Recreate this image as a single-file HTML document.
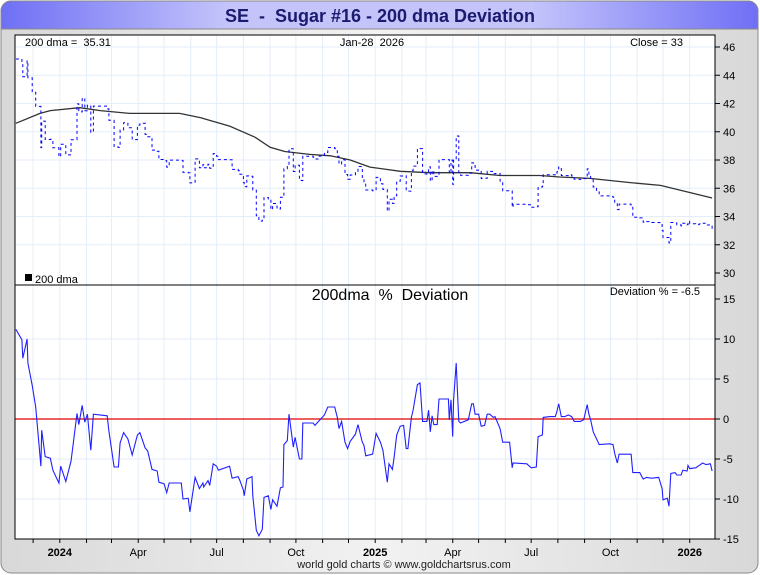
<!DOCTYPE html>
<html><head><meta charset="utf-8"><style>
body{margin:0;background:#fff;font-family:"Liberation Sans",sans-serif}
svg{display:block}
svg text{white-space:pre}
</style></head><body>
<svg id="chart" width="760" height="575" xmlns="http://www.w3.org/2000/svg" font-family="Liberation Sans, sans-serif">
<defs>
<linearGradient id="hdr" x1="0" x2="1" y1="0" y2="0">
<stop offset="0" stop-color="#6f6ff5"/><stop offset="0.3" stop-color="#c4c4fb"/><stop offset="0.7" stop-color="#c4c4fb"/><stop offset="1" stop-color="#6f6ff5"/>
</linearGradient>
<linearGradient id="bg" x1="0" x2="1" y1="0" y2="0">
<stop offset="0" stop-color="#d8d8d8"/><stop offset="0.5" stop-color="#f2f2f2"/><stop offset="1" stop-color="#d8d8d8"/>
</linearGradient>
</defs>
<rect x="1" y="1" width="757" height="572" rx="10" fill="url(#bg)" stroke="#888"/>
<path d="M1,29 V11 A10,10 0 0 1 11,1 H748 A10,10 0 0 1 758,11 V29 Z" fill="url(#hdr)" stroke="#888"/>
<text x="380" y="22" text-anchor="middle" font-size="18" font-weight="bold" fill="#1a1a6e">SE  -  Sugar #16 - 200 dma Deviation</text>
<rect x="15" y="35" width="700" height="504" fill="#fff"/>
<g id="grid"></g>
<g id="marks"></g>
<rect x="15" y="35" width="700" height="504" fill="none" stroke="#000"/>
<line x1="15" y1="285" x2="715" y2="285" stroke="#000"/>
<g id="axes" font-size="11"></g>
<text x="25" y="46" font-size="11">200 dma =  35.31</text>
<text x="372" y="46" font-size="11" text-anchor="middle">Jan-28  2026</text>
<text x="683" y="46" font-size="11" text-anchor="end">Close = 33</text>
<rect x="25" y="274" width="7" height="7" fill="#000"/>
<text x="35" y="283" font-size="11">200 dma</text>
<text x="390" y="300" font-size="16" text-anchor="middle">200dma  %  Deviation</text>
<text x="700" y="295" font-size="11" text-anchor="end">Deviation % = -6.5</text>
<text x="404" y="568" font-size="11" text-anchor="middle" fill="#222">world gold charts © www.goldchartsrus.com</text>
</svg>
<script>
// Days since 2023-11-10
const devDays=[1,8,9,14,15,20,24,30,31,35,41,44,51,53,59,65,72,74,78,81,84,88,91,107,109,115,120,122,126,131,136,142,145,151,154,159,165,167,173,176,179,193,195,201,203,209,214,218,219,224,226,230,234,236,249,252,259,261,265,266,269,275,276,280,283,287,289,294,297,299,304,308,311,312,316,318,323,325,330,333,334,346,348,353,359,363,371,374,376,379,383,386,389,395,398,403,405,407,415,419,424,427,432,434,438,440,443,447,451,454,456,460,462,467,470,473,478,480,482,484,486,490,492,503,504,506,508,509,512,515,517,526,530,532,534,538,541,545,548,551,555,557,563,566,574,577,578,594,599,605,607,612,613,621,627,629,631,634,638,642,646,649,656,660,664,666,668,671,675,678,690,694,696,699,701,715,717,725,729,733,739,747,751,752,757,759,761,766,768,773,775,780,781,783,790,794,798,802,807,809];
const devValues=[11.2,9.9,7.6,10,7,4.2,1.5,-5.9,-1.4,-4.7,-4.9,-6.4,-8,-5.9,-7.8,-5.3,0.7,-0.7,1.7,-0.4,0.6,-3.9,0.6,0.4,-1.5,-6,-6,-3,-1.7,-2.5,-4.5,-2,-1.7,-3.6,-4,-6.3,-6.5,-7.9,-8.1,-9.2,-8,-8,-10,-9.9,-11.6,-7.3,-8.7,-8,-8.5,-7.7,-8.3,-5.6,-5.9,-6.4,-5.9,-7.4,-7.2,-7.7,-8.9,-9.6,-7.5,-7.2,-9.6,-13.9,-14.6,-13.8,-9.8,-9.6,-11.3,-10.1,-10.9,-8.6,-8.5,-3.2,-2.7,0.6,-3.5,-2.3,-5,-5,-0.5,-0.5,-0.8,-0.2,0.5,1.5,1.5,0.2,-1.2,-0.3,-2.9,-3.7,-2.8,-1.9,-0.7,-2.9,-3.3,-4.6,-4.4,-1.8,-2.9,-3.9,-7.9,-5.6,-6.3,-4.8,-2,-0.9,-0.8,-3.7,-3.7,0.2,1.1,4.3,4.5,-0.3,-0.3,1.1,-1.6,0.4,-0.7,-0.7,2.5,2.5,-0.1,2.4,-2.2,2.4,7,-0.3,-0.5,-0.1,1.9,1.9,0.6,0.6,-0.9,-0.8,0.6,0.6,0.2,0.3,-1.2,-2.9,-2.9,-6.1,-5.5,-5.6,-6.1,-6,-2.2,-2,0.2,0.3,0.3,1,1.9,0.3,0.3,0.5,0.3,-0.3,-0.3,-0.1,1.8,0.6,-0.1,-1.6,-2.5,-3.2,-3.1,-3.2,-4.3,-5.5,-4.4,-4.4,-6.7,-6.7,-7.5,-7.3,-7.4,-7.3,-8.7,-10.1,-9.9,-10.9,-6.8,-6.7,-7,-7,-6.4,-6.5,-5.8,-6.2,-6.1,-5.8,-5.5,-5.7,-5.6,-6.5];
const dmaDays=[1,29,41,75,99,133,191,215,249,279,296,313,342,366,389,412,447,482,528,563,609,632,667,714,749,783,809];
const dmaValues=[40.6,41.3,41.5,41.7,41.5,41.3,41.3,41.0,40.4,39.6,38.9,38.6,38.4,38.3,38.0,37.5,37.2,37.1,37.1,36.9,36.9,36.8,36.7,36.4,36.2,35.7,35.31];
const priceTicks=[30,32,34,36,38,40,42,44,46];
const devTicks=[-15,-10,-5,0,5,10,15];
const monthDays=[21,52,83,112,143,173,204,234,265,296,326,357,387,418,449,477,508,538,569,599,630,661,691,722,752,783];
const monthLabels=["","2024","","","Apr","","","Jul","","","Oct","","","2025","","","Apr","","","Jul","","","Oct","","","2026"];

const NS="http://www.w3.org/2000/svg";
const xS=d=>15+d*0.8617;
const yP=v=>47+(46-v)*14.125;
const yD=v=>419-v*8;
function mk(tag,attrs,parent){const e=document.createElementNS(NS,tag);for(const k in attrs)e.setAttribute(k,attrs[k]);parent.appendChild(e);return e;}
const grid=document.getElementById('grid'),marks=document.getElementById('marks'),axes=document.getElementById('axes');

monthDays.forEach((d,i)=>{
  const x=xS(d);
  const g=mk('line',{x1:x,x2:x,y1:35,y2:539,stroke:'#e3eef8'},grid);
  
  
  const t=mk('line',{x1:x,x2:x,y1:539,y2:543,stroke:'#000'},axes);
  
  
  if(monthLabels[i]){
    const isYear=/^\d+$/.test(monthLabels[i]);
    const l=mk('text',{x:x,y:556,'text-anchor':'middle','font-weight':isYear?'bold':'normal'},axes);
    l.textContent=monthLabels[i];
    
    
  }
});
priceTicks.forEach(v=>{
  const y=yP(v);
  if(v>30){const g=mk('line',{x1:15,x2:715,y1:y,y2:y,stroke:'#e3eef8'},grid);
  
  }
  const t=mk('line',{x1:715,x2:720,y1:y,y2:y,stroke:'#000'},axes);
  
  
  const l=mk('text',{x:723,y:y+4},axes);l.textContent=v;
  
  
});
devTicks.forEach(v=>{
  const y=yD(v);
  if(v>-15&&v<15){const g=mk('line',{x1:15,x2:715,y1:y,y2:y,stroke:'#e3eef8'},grid);
  
  }
  const t=mk('line',{x1:715,x2:720,y1:y,y2:y,stroke:'#000'},axes);
  
  
  const l=mk('text',{x:723,y:y+4},axes);l.textContent=v;
  
  
});
const z=mk('line',{x1:15,x2:715,y1:yD(0),y2:yD(0),stroke:'#e00000','stroke-width':1.2},marks);


let pd='';dmaDays.forEach((d,i)=>{pd+=(i?'L':'M')+xS(d).toFixed(1)+','+yP(dmaValues[i]).toFixed(1);});
const dl=mk('path',{d:pd,fill:'none',stroke:'#333','stroke-width':1.3},marks);


function dmaAt(d){for(let i=1;i<dmaDays.length;i++){if(d<=dmaDays[i]){const t=(d-dmaDays[i-1])/(dmaDays[i]-dmaDays[i-1]);return dmaValues[i-1]+t*(dmaValues[i]-dmaValues[i-1]);}}return dmaValues[dmaValues.length-1];}
let pp='';devDays.forEach((d,i)=>{const p=dmaAt(d)*(1+devValues[i]/100);const x=xS(d).toFixed(1),y=yP(p).toFixed(1);
  if(i===0)pp='M'+x+','+y;else pp+='H'+x+'V'+y;});
const pl=mk('path',{d:pp,fill:'none',stroke:'#0000ff','stroke-width':1,'stroke-dasharray':'3 3'},marks);


let dv='';devDays.forEach((d,i)=>{dv+=(i?'L':'M')+xS(d).toFixed(1)+','+yD(devValues[i]).toFixed(1);});
const dvl=mk('path',{d:dv,fill:'none',stroke:'#2020ff','stroke-width':1.1},marks);


</script>
</body></html>
